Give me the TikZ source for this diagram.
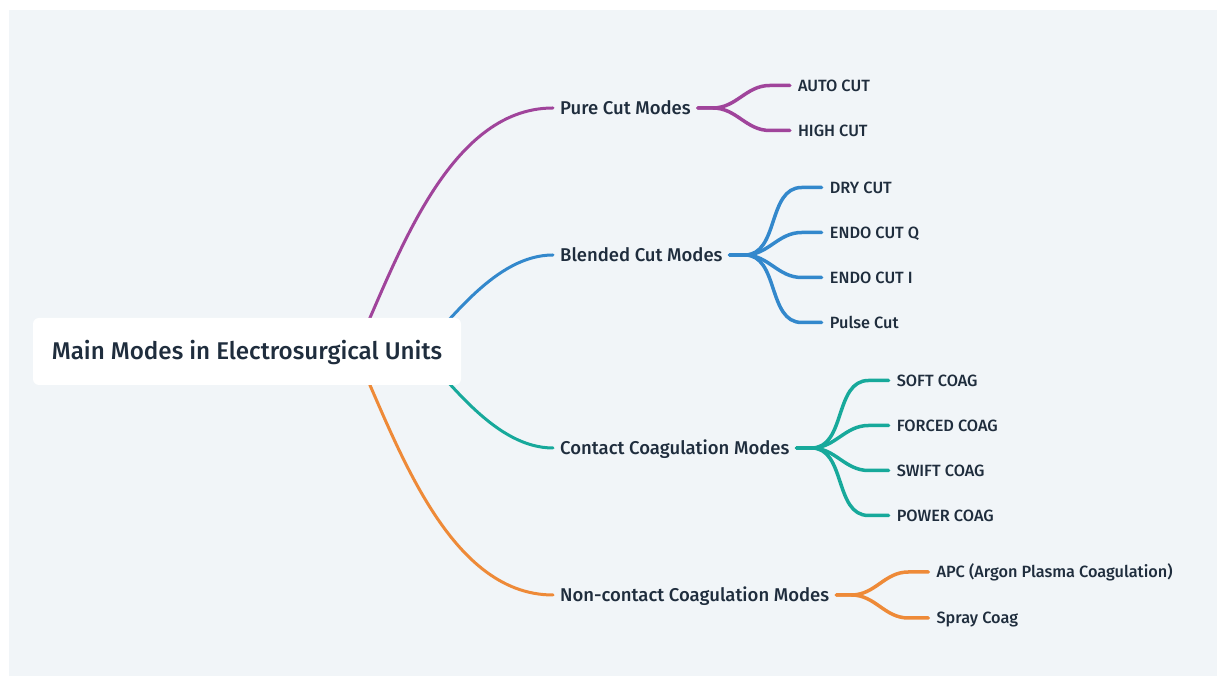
\documentclass[tikz,border=0pt]{standalone}
\usepackage{fontspec}
\setmainfont{Fira Sans Medium}
\usetikzlibrary{positioning,calc}

\definecolor{canvas}{HTML}{F1F5F8}
\definecolor{ink}{HTML}{1F2D3D}
\definecolor{cutcol}{HTML}{A0449B}
\definecolor{blendcol}{HTML}{3388CC}
\definecolor{contactcol}{HTML}{17A99B}
\definecolor{spraycol}{HTML}{EE8A38}

\tikzset{
  topic/.style={fill=white, rounded corners=6pt, minimum width=428pt, minimum height=67pt,
    text=ink, text height=16.8pt, text depth=0pt, font=\fontsize{24.2}{28}\selectfont},
  mode/.style={anchor=west, inner xsep=7pt, inner ysep=0pt, text=ink,
    text height=12.8pt, text depth=0pt, font=\fontsize{18.5}{22}\selectfont},
  leaf/.style={inner xsep=8pt, inner ysep=0pt, text=ink,
    text height=11.3pt, text depth=0pt, font=\fontsize{16.3}{19}\selectfont},
  branch/.style={line width=3pt, line cap=round},
  twig/.style={line width=3.5pt, line cap=round},
}

\begin{document}
\begin{tikzpicture}[x=1pt,y=1pt]
\useasboundingbox (0,0) rectangle (1218,676);
\fill[canvas] (9,0) rectangle (1217,666);

% second level
\node[mode] (pure) at (553,568) {Pure Cut Modes};
\node[mode] (blended) at (553,421) {Blended Cut Modes};
\node[mode] (contact) at (553,228) {Contact Coagulation Modes};
\node[mode] (noncontact) at (553,81) {Non-contact Coagulation Modes};

% leaves
\node[leaf, right=92pt of pure, yshift=22.5pt] (autocut) {AUTO CUT};
\node[leaf, right=92pt of pure, yshift=-22.5pt] (highcut) {HIGH CUT};
\node[leaf, right=92pt of blended, yshift=67.5pt] (drycut) {DRY CUT};
\node[leaf, right=92pt of blended, yshift=22.5pt] (endoq) {ENDO CUT Q};
\node[leaf, right=92pt of blended, yshift=-22.5pt] (endoi) {ENDO CUT I};
\node[leaf, right=92pt of blended, yshift=-67.5pt] (pulse) {Pulse Cut};
\node[leaf, right=92pt of contact, yshift=67.5pt] (softcoag) {SOFT COAG};
\node[leaf, right=92pt of contact, yshift=22.5pt] (forcedcoag) {FORCED COAG};
\node[leaf, right=92pt of contact, yshift=-22.5pt] (swiftcoag) {SWIFT COAG};
\node[leaf, right=92pt of contact, yshift=-67.5pt] (powercoag) {POWER COAG};
\node[leaf, right=92pt of noncontact, yshift=23pt] (apc) {APC (Argon Plasma Coagulation)};
\node[leaf, right=92pt of noncontact, yshift=-23pt] (spray) {Spray Coag};

% leaf connectors
\foreach \parent/\col/\kids in {pure/cutcol/{autocut,highcut},
    blended/blendcol/{drycut,endoq,endoi,pulse},
    contact/contactcol/{softcoag,forcedcoag,swiftcoag,powercoag},
    noncontact/spraycol/{apc,spray}}
  \foreach \kid in \kids
    \draw[twig,\col] (\parent.east) -- ++(15,0) to[out=0,in=180] ($(\kid.west)+(-20,0)$) -- (\kid.west);

% hub points under the topic box
\coordinate (hubcut) at (355,324.5);
\coordinate (hubblend) at (420,324.5);
\draw[branch,cutcol] (hubcut) to[out=65,in=180,out distance=95pt,in distance=107pt] (pure.west);
\draw[branch,blendcol] (hubblend) to[out=45,in=180,out distance=43pt,in distance=57pt] (blended.west);
\draw[branch,contactcol] (hubblend) to[out=-45,in=180,out distance=43pt,in distance=57pt] (contact.west);
\draw[branch,spraycol] (hubcut) to[out=-65,in=180,out distance=95pt,in distance=107pt] (noncontact.west);

\node[topic] (topic) at (247,324.5) {Main Modes in Electrosurgical Units};
\end{tikzpicture}
\end{document}
